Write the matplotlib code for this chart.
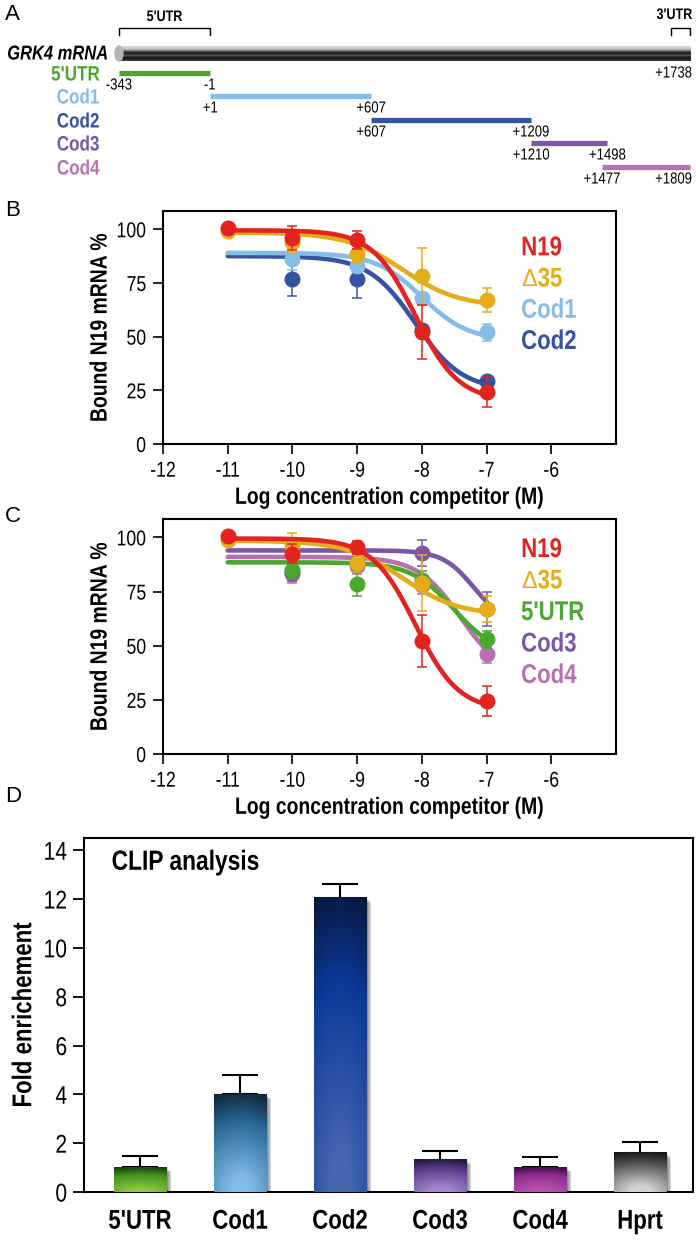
import matplotlib.pyplot as plt
import numpy as np
from matplotlib.patches import Rectangle, Ellipse
from matplotlib.colors import to_rgb
from matplotlib.patheffects import AbstractPathEffect
from matplotlib.transforms import Affine2D

plt.rcParams['font.family'] = ['Liberation Sans', 'DejaVu Sans']
plt.rcParams['axes.unicode_minus'] = False

# ---- panel A : GRK4 mRNA map (nucleotide positions) ----
rod_start, rod_end = -343, 1809
utr3_start = 1738
seg_names = ["5'UTR", "Cod1", "Cod2", "Cod3", "Cod4"]
seg_start = [-343, 1, 607, 1210, 1477]
seg_end = [-1, 607, 1209, 1498, 1809]
seg_start_lbl = ["-343", "+1", "+607", "+1210", "+1477"]
seg_end_lbl = ["-1", "+607", "+1209", "+1498", "+1809"]

# ---- panels B and C : competition binding ----
log_conc = [-11, -10, -9, -8, -7]

b_names = ["N19", "Δ35", "Cod1", "Cod2"]
b_points = [[100.5, 96, 95, 52, 24],
            [99, 94, 88.5, 78, 67],
            [np.nan, 86, 83, 68, 52],
            [np.nan, 77, 77, 53, 29.5]]
b_err = [[0, 5.5, 4, 12.5, 7],
         [0, 5, 4, 13.5, 5.5],
         [0, 5, 3, 0, 4],
         [0, 8, 9, 0, 0]]
# fitted sigmoid parameters: top, bottom, logIC50, hill
b_fit = [[99.5, 20, -8.1, 1.3],
         [98.5, 64, -8.3, 1.0],
         [89, 48, -8.0, 1.2],
         [87.5, 25, -8.1, 1.2]]

c_names = ["N19", "Δ35", "5'UTR", "Cod3", "Cod4"]
c_points = [[100.5, 92.5, 95.5, 52, 24.5],
            [99, 96, 88, 79, 67],
            [np.nan, 85, 78.5, 80.5, 53],
            [np.nan, 84, 88, 93, 67],
            [np.nan, 83, 87, 78, 46]]
c_err = [[0, 4.5, 3, 12, 7],
         [0, 6, 4, 13, 6],
         [0, 4, 5.5, 4, 4],
         [0, 4, 3, 6, 8],
         [0, 4, 4, 4, 4]]
c_fit = [[99.5, 20, -8.1, 1.3],
         [98.5, 64, -8.3, 1.0],
         [88.5, 45, -7.5, 1.3],
         [94, 60, -7.2, 1.8],
         [91, 35, -7.4, 1.3]]

# ---- panel D : CLIP analysis ----
clip_labels = ["5'UTR", "Cod1", "Cod2", "Cod3", "Cod4", "Hprt"]
clip_values = [1.02, 4.0, 12.05, 1.33, 1.02, 1.6]
clip_err = [0.45, 0.8, 0.57, 0.35, 0.43, 0.44]

colors = {"N19": "#e2231f", "Δ35": "#e4ad18", "Cod1": "#86bde6", "Cod2": "#3553a2",
          "5'UTR": "#4ba82e", "Cod3": "#7b56a4", "Cod4": "#b870b2"}
bar_dark = ["#10280a", "#0b1726", "#06122e", "#1a0d2c", "#2a0830", "#080808"]
bar_mid = ["#3f8f1e", "#2a6a98", "#0c3a98", "#5a3d8a", "#8a2a8a", "#555555"]
bar_light = ["#8cc83e", "#80bce6", "#4565ae", "#a286c8", "#b850ae", "#d4d4d4"]


class Narrow(AbstractPathEffect):
    """squeeze text horizontally (condensed look), about an anchor fraction"""
    def __init__(self, sx=0.82, anchor=0.5):
        super().__init__()
        self.sx, self.anchor = sx, anchor

    def draw_path(self, renderer, gc, tpath, affine, rgbFace=None):
        ext = tpath.get_extents()
        xa = ext.x0 + self.anchor * ext.width
        t = Affine2D().translate(-xa, 0).scale(self.sx, 1).translate(xa, 0)
        renderer.draw_path(gc, tpath, t + affine, rgbFace)


def nar(a=0.5):
    return [Narrow(0.82, a)]


def logistic(x, top, bottom, logic50, hill):
    return bottom + (top - bottom) / (1 + 10 ** ((x - logic50) * hill))


def narrow_ticks(ax, xa=0.5, ya=1.0):
    for tk in ax.xaxis.get_major_ticks():
        tk.label1.set_path_effects(nar(xa))
    for tk in ax.yaxis.get_major_ticks():
        tk.label1.set_path_effects(nar(ya))
    ax.xaxis.label.set_path_effects(nar(0.5))
    ax.yaxis.label.set_path_effects(nar(0.5))


fig = plt.figure(figsize=(6.96, 12.41), dpi=100)

# ================= A =================
axA = fig.add_axes([0, 1 - 190 / 1241, 1, 190 / 1241])
axA.axis('off')

prof = np.array([to_rgb(c) for c in ["#d8d8d8", "#c4c4c4", "#9a9a9a", "#3a3a3a", "#1e1e1e",
                                     "#5a5a5a", "#222222", "#181818", "#3c3c3c"]])
rod_img = np.repeat(prof[:, None, :], 4, axis=1)
axA.imshow(rod_img, extent=[rod_start, rod_end, 61, 46], aspect='auto',
           interpolation='bilinear', zorder=2)
axA.add_patch(Ellipse((rod_start, 53.5), 30, 15, color="#b4b4b4", zorder=3))
axA.set_xlim(-791.5, 1831.6)
axA.set_ylim(190, 0)

axA.text(-765, 54, "GRK4 mRNA", ha='left', va='center', fontsize=14.5,
         fontweight='bold', fontstyle='italic', path_effects=nar(0))

# brackets
axA.plot([rod_start, rod_start, -1, -1], [35, 28, 28, 35], color='k', lw=1)
axA.text((rod_start - 1) / 2, 17, "5'UTR", ha='center', va='center', fontsize=11,
         fontweight='bold', path_effects=nar(0.5))
axA.plot([utr3_start, utr3_start, rod_end, rod_end], [35, 28, 28, 35], color='k', lw=1)
axA.text(rod_end + 8, 15, "3'UTR", ha='right', va='center', fontsize=11,
         fontweight='bold', path_effects=nar(1))
axA.text(rod_end + 8, 73, "+%d" % utr3_start, ha='right', va='center', fontsize=11.5,
         path_effects=nar(1))

row_y = [73, 96, 120, 143, 167]
for i, name in enumerate(seg_names):
    y = row_y[i]
    axA.plot([seg_start[i], seg_end[i]], [y, y], color=colors[name], lw=3.8,
             solid_capstyle='butt')
    axA.text(-415, y + 2, name, ha='right', va='center', fontsize=15,
             fontweight='bold', color=colors[name], path_effects=nar(1))
    axA.text(seg_start[i], y + 12, seg_start_lbl[i], ha='center', va='center',
             fontsize=11.5, path_effects=nar(0.5))
    if seg_end[i] == rod_end:
        axA.text(rod_end + 8, y + 12, seg_end_lbl[i], ha='right', va='center',
                 fontsize=11.5, path_effects=nar(1))
    else:
        axA.text(seg_end[i], y + 12, seg_end_lbl[i], ha='center', va='center',
                 fontsize=11.5, path_effects=nar(0.5))


# ================= B / C =================
def comp_panel(ax, names, points, errs, fits, leg_top):
    xs = np.linspace(log_conc[0], log_conc[-1], 200)
    order = list(range(len(names)))[::-1]
    for z, i in enumerate(order):
        col = colors[names[i]]
        ax.plot(xs, logistic(xs, *fits[i]), color=col, lw=3.3, zorder=2 + z * 2,
                solid_capstyle='round')
        e = np.array(errs[i], dtype=float)
        e[e == 0] = np.nan
        ax.errorbar(log_conc, points[i], yerr=e, fmt='none', ecolor=col,
                    elinewidth=1.1, capsize=3.5, capthick=1.1, zorder=2 + z * 2)
        ax.plot(log_conc, points[i], 'o', color=col, ms=11.5, mec='none', zorder=3 + z * 2)
    for i, name in enumerate(names):
        y = leg_top - i * 0.134
        if name.startswith("Δ"):
            ax.text(0.79, y, "Δ", transform=ax.transAxes, ha='left', va='center',
                    fontsize=17, color=colors[name])
            ax.annotate(name[1:], (0.79, y), xycoords='axes fraction', xytext=(12, 0),
                        textcoords='offset points', ha='left', va='center',
                        fontsize=19.5, fontweight='bold', color=colors[name],
                        path_effects=nar(0))
        else:
            ax.text(0.79, y, name, transform=ax.transAxes, ha='left', va='center',
                    fontsize=19.5, fontweight='bold', color=colors[name],
                    path_effects=nar(0))
    ax.set_xlim(-12, -5)
    ax.set_ylim(0, 108.5)
    ax.set_xticks([-12, -11, -10, -9, -8, -7, -6])
    ax.set_yticks([0, 25, 50, 75, 100])
    ax.tick_params(direction='out', length=7, width=1.2, labelsize=15.5, pad=5)
    for s in ax.spines.values():
        s.set_linewidth(1.5)
    ax.set_xlabel("Log concentration competitor (M)", fontsize=17, fontweight='bold', labelpad=3)
    ax.set_ylabel("Bound N19 mRNA %", fontsize=17, fontweight='bold', labelpad=-1)
    narrow_ticks(ax)


axB = fig.add_axes([163 / 696, 1 - 444 / 1241, 453 / 696, 233 / 1241])
comp_panel(axB, b_names, b_points, b_err, b_fit, 0.84)
axC = fig.add_axes([163 / 696, 1 - 754 / 1241, 453 / 696, 235 / 1241])
comp_panel(axC, c_names, c_points, c_err, c_fit, 0.868)

# ================= D =================
axD = fig.add_axes([84 / 696, 1 - 1192 / 1241, 609 / 696, 354 / 1241])
xpos = np.arange(len(clip_labels))
bars = axD.bar(xpos, clip_values, width=0.53, color='none', edgecolor='none', zorder=3)
axD.errorbar(xpos, clip_values, yerr=[np.zeros(len(clip_err)), clip_err], fmt='none',
             ecolor='k', elinewidth=1.5, capsize=13, capthick=1.5, zorder=2)

u = np.linspace(0, 1, 60)[None, :]
t = np.linspace(0, 1, 160)[:, None]
f = np.clip(1.15 - np.sqrt(((u - 0.5) * 0.75) ** 2 + ((1 - t) * 1.05) ** 2), 0, 1)
for i, p in enumerate(bars.patches):
    x0, w, h = p.get_x(), p.get_width(), p.get_height()
    # soft shadow to the right
    for k in range(1, 9):
        axD.add_patch(Rectangle((x0 + 0.006 * k, 0), w, h - 0.025 * k,
                                color='k', alpha=0.08, lw=0, zorder=1.5))
    d = np.array(to_rgb(bar_dark[i]))
    m = np.array(to_rgb(bar_mid[i]))
    l = np.array(to_rgb(bar_light[i]))
    g = f[..., None]
    img = np.where(g < 0.4, d + (m - d) * (g / 0.4), m + (l - m) * ((g - 0.4) / 0.6))
    axD.imshow(img, extent=[x0, x0 + w, 0, h], aspect='auto', interpolation='bilinear',
               zorder=3)

axD.set_xlim(-0.56, 5.53)
axD.set_ylim(0, 14.5)
axD.set_yticks([0, 2, 4, 6, 8, 10, 12, 14])
axD.set_xticks(xpos)
axD.set_xticklabels(clip_labels, fontsize=19.5, fontweight='bold')
axD.tick_params(axis='y', direction='out', length=8, width=1.3, labelsize=18.5, pad=4)
axD.tick_params(axis='x', length=0, pad=12)
for s in axD.spines.values():
    s.set_linewidth(1.5)
axD.set_ylabel("Fold enrichement", fontsize=19.5, fontweight='bold', labelpad=1)
axD.text(0.045, 0.93, "CLIP analysis", transform=axD.transAxes, ha='left', va='center',
         fontsize=20, fontweight='bold', path_effects=nar(0))
narrow_ticks(axD)

# panel letters
for letter, ypx in [("A", 15), ("B", 210), ("C", 517), ("D", 797)]:
    fig.text(5 / 696, 1 - ypx / 1241, letter, ha='left', va='center', fontsize=16)

fig.savefig("out.png", dpi=100)
